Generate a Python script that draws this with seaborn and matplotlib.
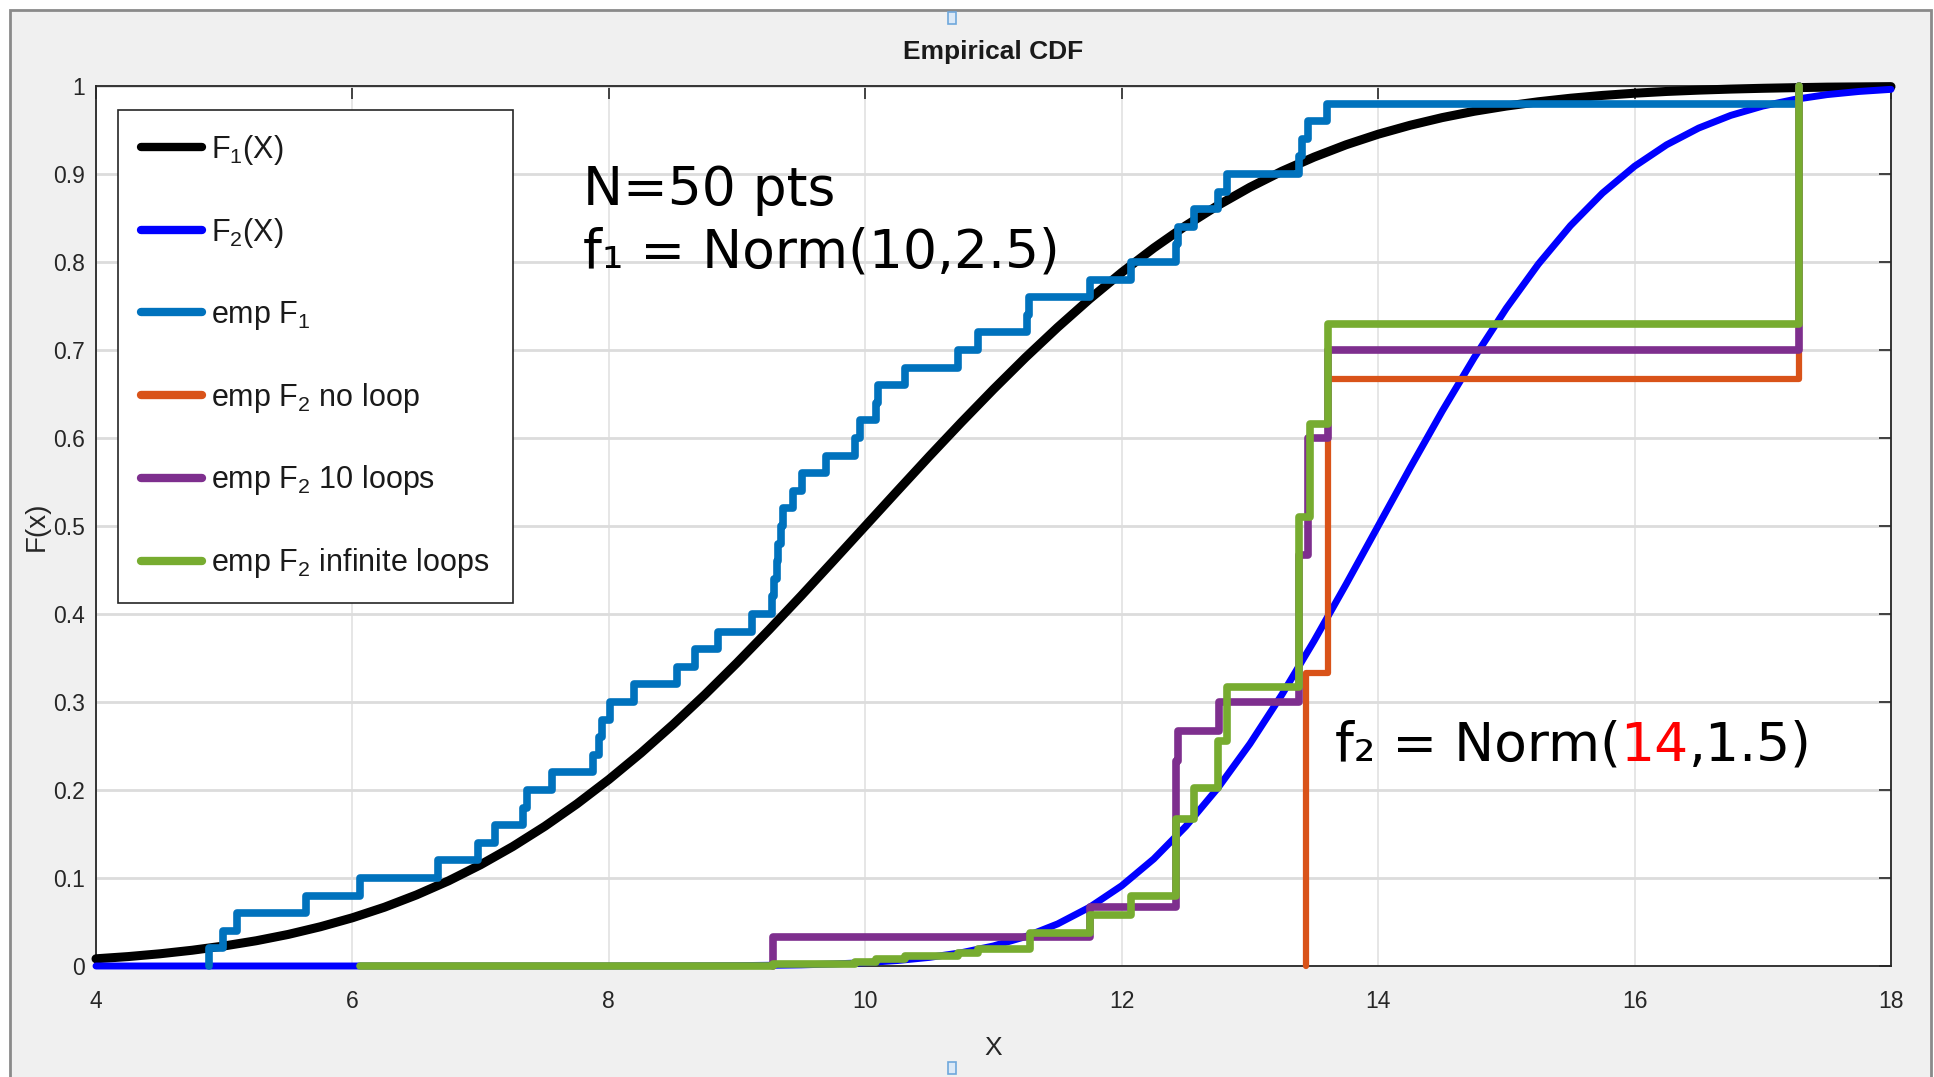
import numpy as np
import matplotlib
matplotlib.use('Agg')
import matplotlib.pyplot as plt
import matplotlib.transforms as mtransforms
from matplotlib.patches import Rectangle
from matplotlib.ticker import FuncFormatter
import seaborn as sns

# theoretical CDFs, every 0.25 on x from 4 to 18
x_grid = np.linspace(4, 18, 57)
f1_cdf = [0.0082, 0.0107, 0.0139, 0.0179, 0.0228, 0.0287, 0.0359, 0.0446, 0.0548, 0.0668,
          0.0808, 0.0968, 0.1151, 0.1357, 0.1587, 0.1841, 0.2119, 0.2420, 0.2743, 0.3085,
          0.3446, 0.3821, 0.4207, 0.4602, 0.5000, 0.5398, 0.5793, 0.6179, 0.6554, 0.6915,
          0.7257, 0.7580, 0.7881, 0.8159, 0.8413, 0.8643, 0.8849, 0.9032, 0.9192, 0.9332,
          0.9452, 0.9554, 0.9641, 0.9713, 0.9772, 0.9821, 0.9861, 0.9893, 0.9918, 0.9938,
          0.9953, 0.9965, 0.9974, 0.9981, 0.9987, 0.9990, 0.9993]
f2_cdf = [0.0, 0.0, 0.0, 0.0, 0.0, 0.0, 0.0, 0.0, 0.0, 0.0,
          0.0, 0.0, 0.0, 0.0, 0.0, 0.0, 0.0, 0.0001, 0.0001, 0.0002,
          0.0004, 0.0008, 0.0013, 0.0023, 0.0038, 0.0062, 0.0098, 0.0151, 0.0228, 0.0334,
          0.0478, 0.0668, 0.0912, 0.1217, 0.1587, 0.2023, 0.2525, 0.3085, 0.3694, 0.4338,
          0.5000, 0.5662, 0.6306, 0.6915, 0.7475, 0.7977, 0.8413, 0.8783, 0.9088, 0.9332,
          0.9522, 0.9666, 0.9772, 0.9848, 0.9902, 0.9938, 0.9962]

# the 50 sample points behind emp F1
emp_f1_x = [4.88, 4.99, 5.10, 5.64, 6.06, 6.67, 6.98, 7.11, 7.33, 7.36,
            7.56, 7.88, 7.92, 7.95, 8.01, 8.20, 8.53, 8.67, 8.85, 9.12,
            9.27, 9.29, 9.31, 9.32, 9.34, 9.36, 9.44, 9.51, 9.69, 9.92,
            9.96, 10.08, 10.10, 10.31, 10.72, 10.88, 11.26, 11.28, 11.75, 12.07,
            12.42, 12.44, 12.56, 12.75, 12.82, 13.38, 13.41, 13.45, 13.60, 17.28]

# emp F2 curves: jump positions and the level reached after each jump
noloop_x = [13.44, 13.61, 17.28]
noloop_cdf = [0.333, 0.667, 1.0]
loops10_x = [9.28, 11.75, 12.42, 12.44, 12.76, 13.385, 13.45, 13.61, 17.28]
loops10_cdf = [0.033, 0.067, 0.233, 0.267, 0.300, 0.467, 0.600, 0.700, 1.0]
infloop_x = [6.06, 9.28, 9.92, 10.08, 10.31, 10.72, 10.88, 11.285, 11.75, 12.07,
             12.42, 12.56, 12.75, 12.82, 13.385, 13.466, 13.61, 17.28]
infloop_cdf = [0.0005, 0.002, 0.005, 0.008, 0.011, 0.015, 0.019, 0.037, 0.058, 0.080,
               0.167, 0.202, 0.256, 0.317, 0.510, 0.616, 0.730, 1.0]

labels = ['F$_1$(X)', 'F$_2$(X)', 'emp F$_1$', 'emp F$_2$ no loop',
          'emp F$_2$ 10 loops', 'emp F$_2$ infinite loops']
colors = ['#000000', '#0000ff', '#0072bd', '#d95319', '#7e2f8e', '#77ac30']

sns.set_theme(style='whitegrid')
plt.rcParams['font.family'] = ['Liberation Sans', 'DejaVu Sans']
plt.rcParams['mathtext.default'] = 'regular'

fig = plt.figure(figsize=(19.34, 10.77), dpi=100, facecolor='white')
fig.patches.append(Rectangle((10 / 1934, -0.01), 1921 / 1934, 1.01 - 10 / 1077,
                             transform=fig.transFigure, facecolor='#f0f0f0',
                             edgecolor='#8a8a8a', lw=2, zorder=-10))
for yy in (12, 1062):
    fig.patches.append(Rectangle((948 / 1934, 1 - (yy + 12) / 1077), 8 / 1934, 12 / 1077,
                                 transform=fig.transFigure, facecolor='#dbe9f7',
                                 edgecolor='#6fa8dc', lw=1.2))

ax = fig.add_axes([96 / 1934, 1 - 966 / 1077, 1795 / 1934, 880 / 1077])
ax.set_facecolor('white')

sns.lineplot(x=x_grid, y=f1_cdf, color=colors[0], lw=6.5, label=labels[0], ax=ax)
sns.lineplot(x=x_grid, y=f2_cdf, color=colors[1], lw=5, label=labels[1], ax=ax)
sns.ecdfplot(x=emp_f1_x, color=colors[2], lw=5.5, label=labels[2], ax=ax)
sns.ecdfplot(x=noloop_x, weights=np.diff(np.r_[0, noloop_cdf]), color=colors[3], lw=4.5,
             label=labels[3], ax=ax)
sns.ecdfplot(x=loops10_x, weights=np.diff(np.r_[0, loops10_cdf]), color=colors[4], lw=5.5,
             label=labels[4], ax=ax)
sns.ecdfplot(x=infloop_x, weights=np.diff(np.r_[0, infloop_cdf]), color=colors[5], lw=5.5,
             label=labels[5], ax=ax)
for ln in ax.lines:
    ln.set_clip_on(False)
    ln.set_zorder(3)

ax.set_xlim(4, 18)
ax.set_ylim(0, 1)
ax.set_xticks(np.arange(4, 19, 2))
ax.set_yticks(np.linspace(0, 1, 11))
ax.yaxis.set_major_formatter(FuncFormatter(lambda v, p: '%g' % round(v, 1)))
ax.tick_params(direction='in', length=9, width=1.2, color='#262626', labelsize=16.5,
               labelcolor='#262626', top=True, right=True)
ax.tick_params(axis='x', pad=17)
ax.tick_params(axis='y', pad=8)
ax.grid(axis='y', color='#dcdcdc', lw=2)
ax.grid(axis='x', color='#e2e2e2', lw=1.2)
for sp in ax.spines.values():
    sp.set_color('#262626')
    sp.set_linewidth(1.3)

ax.set_xlabel('X', fontsize=19, color='#262626')
ax.xaxis.set_label_coords(0.5, -0.093)
ax.xaxis.label.set_va('center')
ax.set_ylabel('F(x)', fontsize=20, color='#262626')
ax.yaxis.set_label_coords(-0.033, 0.5)
ax.yaxis.label.set_va('center')
ax.yaxis.label.set_ha('center')
ax.text(0.5, 1.0386, 'Empirical CDF', transform=ax.transAxes, ha='center', va='center',
        fontsize=19, fontweight='bold', color='#1a1a1a')

leg = ax.legend(loc='upper left', bbox_to_anchor=(0.0123, 0.9727), borderaxespad=0,
                fontsize=22, handlelength=2.0, handletextpad=0.3, labelspacing=1.6,
                borderpad=0.75, fancybox=False, framealpha=1, edgecolor='#262626')
leg.get_frame().set_linewidth(1.2)
leg.set_zorder(6)
for h in leg.get_lines():
    h.set_linewidth(6)
for t in leg.get_texts():
    t.set_color('#1a1a1a')

# annotations
note_font = dict(family='DejaVu Sans', fontsize=38.5, va='baseline', ha='left', color='black')
ax.text(7.80, 0.865, 'N=50 pts', **note_font)
ax.text(7.80, 0.794, 'f\u2081 = Norm(10,2.5)', **note_font)

renderer = fig.canvas.get_renderer()
trans = ax.transData
for part, col in [('f\u2082 = Norm(', 'black'), ('14', 'red'), (',1.5)', 'black')]:
    note_font['color'] = col
    t = ax.text(13.66, 0.233, part, transform=trans, **note_font)
    ext = t.get_window_extent(renderer)
    trans = mtransforms.offset_copy(t.get_transform(), fig=fig, x=ext.width, units='dots')

fig.savefig('out.png', dpi=100, facecolor=fig.get_facecolor())
